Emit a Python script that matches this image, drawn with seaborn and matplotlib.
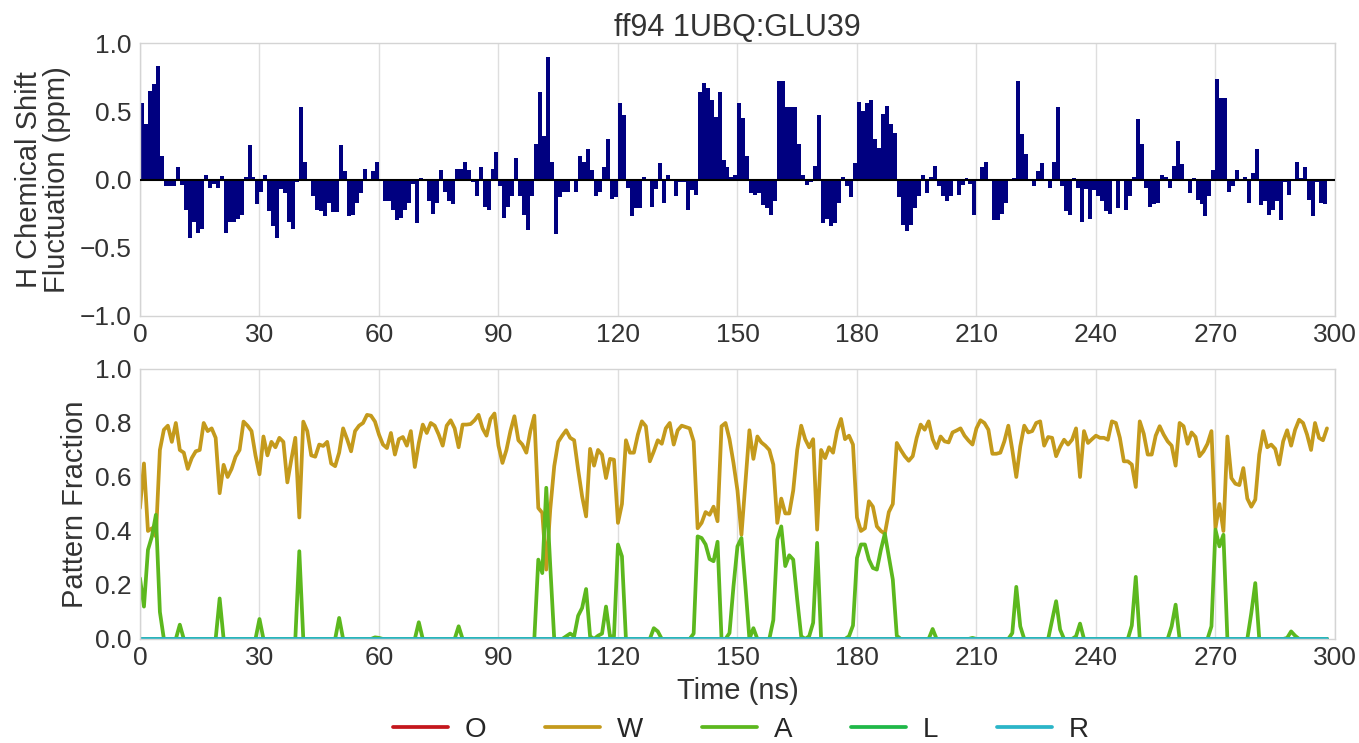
import numpy as np
import matplotlib
matplotlib.use("Agg")
import matplotlib.pyplot as plt
import seaborn as sns

# ---- data -------------------------------------------------------------
time_ns = np.arange(299)

shift_ppm = [
    0.56, 0.41, 0.65, 0.70, 0.83, 0.17, -0.05, -0.045, -0.05, 0.09,
    -0.04, -0.22, -0.43, -0.31, -0.39, -0.36, 0.03, -0.06, -0.03, -0.06,
    0.025, -0.39, -0.31, -0.31, -0.29, -0.26, 0.02, 0.25, 0.02, -0.18,
    -0.09, 0.03, -0.23, -0.34, -0.43, -0.07, -0.10, -0.31, -0.36, -0.02,
    0.53, 0.13, -0.005, -0.12, -0.22, -0.23, -0.27, -0.17, -0.24, -0.24,
    0.25, 0.06, -0.27, -0.26, -0.17, -0.10, 0.08, 0.0, 0.06, 0.13,
    -0.01, -0.16, -0.16, -0.22, -0.30, -0.28, -0.22, -0.17, -0.03, -0.32,
    0.01, -0.01, -0.16, -0.25, -0.17, 0.07, -0.09, -0.16, -0.18, 0.08,
    0.08, 0.13, 0.07, -0.02, -0.12, 0.09, -0.20, -0.22, 0.08, 0.20,
    -0.05, -0.28, -0.20, -0.12, 0.16, -0.12, -0.26, -0.37, -0.12, 0.26,
    0.64, 0.32, 0.90, 0.13, -0.40, -0.13, -0.09, -0.09, -0.01, -0.09,
    0.17, 0.13, 0.22, 0.07, -0.12, -0.09, 0.09, 0.30, -0.14, -0.13,
    0.56, 0.47, -0.06, -0.27, -0.21, -0.21, 0.02, 0.0, -0.20, -0.07,
    0.12, -0.17, 0.03, -0.01, -0.12, -0.02, -0.02, -0.22, -0.08, -0.11,
    0.64, 0.71, 0.67, 0.58, 0.46, 0.64, 0.14, 0.09, 0.02, 0.03,
    0.56, 0.45, 0.17, -0.10, -0.11, -0.10, -0.19, -0.21, -0.26, -0.16,
    0.72, 0.72, 0.53, 0.53, 0.53, 0.26, 0.03, -0.04, -0.02, 0.10,
    0.47, -0.32, -0.29, -0.34, -0.32, -0.17, 0.02, -0.05, -0.13, 0.12,
    0.57, 0.50, 0.56, 0.58, 0.30, 0.23, 0.48, 0.54, 0.41, 0.34,
    -0.13, -0.33, -0.38, -0.33, -0.21, -0.12, 0.03, -0.10, 0.02, 0.10,
    -0.05, -0.12, -0.16, -0.12, -0.01, -0.11, -0.04, 0.01, -0.03, -0.26,
    0.0, 0.09, 0.13, -0.01, -0.30, -0.30, -0.25, -0.17, 0.0, 0.01,
    0.72, 0.33, 0.19, -0.01, -0.05, 0.06, 0.12, 0.0, -0.06, 0.13,
    0.53, -0.05, -0.23, -0.26, 0.01, -0.06, -0.31, -0.07, -0.29, -0.08,
    -0.12, -0.16, -0.23, -0.25, -0.005, -0.21, 0.0, -0.22, -0.12, 0.02,
    0.44, 0.26, -0.06, -0.20, -0.18, -0.17, 0.03, 0.02, -0.06, 0.10,
    0.28, 0.11, 0.0, -0.10, 0.01, -0.15, -0.18, -0.27, -0.12, 0.07,
    0.74, 0.60, 0.60, -0.09, -0.05, 0.07, -0.01, 0.02, -0.17, 0.05,
    0.22, -0.19, -0.16, -0.26, -0.22, -0.16, -0.30, -0.02, -0.11, 0.0,
    0.13, 0.01, 0.09, -0.15, -0.27, -0.02, -0.17, -0.18, -0.01,
]

frac_W = [
    0.485, 0.65, 0.40, 0.41, 0.38, 0.70, 0.775, 0.79, 0.73, 0.80,
    0.70, 0.69, 0.63, 0.67, 0.695, 0.70, 0.80, 0.77, 0.78, 0.745,
    0.54, 0.645, 0.60, 0.63, 0.675, 0.70, 0.805, 0.79, 0.77, 0.68,
    0.61, 0.75, 0.68, 0.73, 0.71, 0.745, 0.73, 0.58, 0.665, 0.745,
    0.45, 0.805, 0.77, 0.68, 0.675, 0.72, 0.715, 0.73, 0.65, 0.64,
    0.69, 0.78, 0.74, 0.695, 0.77, 0.79, 0.80, 0.83, 0.827, 0.805,
    0.757, 0.72, 0.707, 0.763, 0.683, 0.74, 0.748, 0.716, 0.77, 0.637,
    0.726, 0.794, 0.763, 0.80, 0.79, 0.757, 0.716, 0.79, 0.81, 0.78,
    0.71, 0.794, 0.794, 0.796, 0.81, 0.83, 0.78, 0.753, 0.815, 0.835,
    0.716, 0.652, 0.70, 0.77, 0.825, 0.736, 0.72, 0.69, 0.77, 0.827,
    0.485, 0.467, 0.257, 0.48, 0.64, 0.73, 0.753, 0.773, 0.745, 0.736,
    0.627, 0.528, 0.454, 0.704, 0.642, 0.70, 0.683, 0.596, 0.667, 0.664,
    0.43, 0.50, 0.736, 0.69, 0.69, 0.757, 0.806, 0.788, 0.658, 0.695,
    0.736, 0.723, 0.78, 0.80, 0.72, 0.773, 0.79, 0.785, 0.78, 0.732,
    0.41, 0.43, 0.47, 0.46, 0.49, 0.436, 0.788, 0.80, 0.74, 0.652,
    0.55, 0.386, 0.58, 0.773, 0.667, 0.75, 0.728, 0.716, 0.70, 0.646,
    0.43, 0.52, 0.465, 0.465, 0.55, 0.70, 0.79, 0.74, 0.71, 0.74,
    0.405, 0.70, 0.67, 0.71, 0.69, 0.77, 0.815, 0.74, 0.753, 0.72,
    0.45, 0.40, 0.41, 0.51, 0.49, 0.417, 0.40, 0.39, 0.47, 0.50,
    0.726, 0.70, 0.677, 0.66, 0.677, 0.745, 0.794, 0.775, 0.806, 0.74,
    0.707, 0.75, 0.732, 0.728, 0.765, 0.772, 0.78, 0.753, 0.735, 0.72,
    0.78, 0.81, 0.80, 0.775, 0.686, 0.686, 0.69, 0.732, 0.79, 0.70,
    0.60, 0.713, 0.79, 0.765, 0.77, 0.80, 0.806, 0.716, 0.748, 0.745,
    0.677, 0.711, 0.738, 0.72, 0.738, 0.78, 0.60, 0.77, 0.726, 0.74,
    0.753, 0.745, 0.745, 0.738, 0.806, 0.80, 0.745, 0.658, 0.658, 0.646,
    0.563, 0.806, 0.76, 0.683, 0.683, 0.753, 0.788, 0.757, 0.732, 0.716,
    0.642, 0.80, 0.788, 0.723, 0.765, 0.748, 0.677, 0.695, 0.723, 0.77,
    0.41, 0.50, 0.40, 0.75, 0.596, 0.575, 0.57, 0.633, 0.52, 0.49,
    0.516, 0.683, 0.77, 0.71, 0.72, 0.704, 0.646, 0.732, 0.773, 0.716,
    0.775, 0.812, 0.80, 0.757, 0.70, 0.80, 0.745, 0.736, 0.78,
]

frac_A = [
    0.225, 0.12, 0.33, 0.38, 0.46, 0.10, 0.0, 0.0, 0.0, 0.0,
    0.053, 0.0, 0.0, 0.0, 0.0, 0.0, 0.0, 0.0, 0.0, 0.0,
    0.15, 0.0, 0.0, 0.0, 0.0, 0.0, 0.0, 0.0, 0.0, 0.0,
    0.074, 0.0, 0.0, 0.0, 0.0, 0.0, 0.0, 0.0, 0.0, 0.0,
    0.325, 0.0, 0.0, 0.0, 0.0, 0.0, 0.0, 0.0, 0.0, 0.0,
    0.078, 0.0, 0.0, 0.0, 0.0, 0.0, 0.0, 0.0, 0.0, 0.006,
    0.004, 0.0, 0.0, 0.0, 0.0, 0.0, 0.0, 0.0, 0.0, 0.0,
    0.062, 0.0, 0.0, 0.0, 0.0, 0.0, 0.0, 0.0, 0.0, 0.0,
    0.047, 0.0, 0.0, 0.0, 0.0, 0.0, 0.0, 0.0, 0.0, 0.0,
    0.0, 0.0, 0.0, 0.0, 0.0, 0.0, 0.0, 0.0, 0.0, 0.0,
    0.294, 0.244, 0.56, 0.27, 0.0, 0.0, 0.0, 0.01, 0.02, 0.01,
    0.086, 0.115, 0.185, 0.01, 0.0, 0.012, 0.02, 0.12, 0.01, 0.01,
    0.35, 0.306, 0.0, 0.0, 0.0, 0.0, 0.0, 0.0, 0.0, 0.04,
    0.028, 0.0, 0.0, 0.0, 0.0, 0.0, 0.0, 0.0, 0.0, 0.02,
    0.38, 0.374, 0.35, 0.296, 0.288, 0.36, 0.0, 0.0, 0.022, 0.195,
    0.343, 0.374, 0.195, 0.0, 0.04, 0.0, 0.0, 0.0, 0.0, 0.07,
    0.368, 0.417, 0.27, 0.31, 0.294, 0.146, 0.01, 0.0, 0.01, 0.06,
    0.356, 0.0, 0.0, 0.0, 0.0, 0.0, 0.0, 0.0, 0.01, 0.05,
    0.30, 0.35, 0.35, 0.294, 0.263, 0.257, 0.33, 0.39, 0.306, 0.22,
    0.012, 0.0, 0.0, 0.0, 0.0, 0.0, 0.0, 0.0, 0.0, 0.037,
    0.0, 0.0, 0.0, 0.0, 0.0, 0.0, 0.0, 0.0, 0.0, 0.004,
    0.0, 0.0, 0.0, 0.0, 0.0, 0.0, 0.0, 0.0, 0.0, 0.022,
    0.193, 0.047, 0.0, 0.0, 0.0, 0.0, 0.0, 0.0, 0.0, 0.07,
    0.14, 0.035, 0.0, 0.0, 0.0, 0.01, 0.057, 0.0, 0.0, 0.0,
    0.0, 0.0, 0.0, 0.0, 0.0, 0.0, 0.0, 0.0, 0.0, 0.05,
    0.23, 0.0, 0.0, 0.0, 0.0, 0.0, 0.0, 0.0, 0.0, 0.047,
    0.127, 0.0, 0.0, 0.0, 0.0, 0.0, 0.0, 0.0, 0.0, 0.047,
    0.405, 0.343, 0.386, 0.0, 0.0, 0.0, 0.0, 0.0, 0.0, 0.096,
    0.207, 0.0, 0.0, 0.0, 0.0, 0.0, 0.0, 0.0, 0.004, 0.028,
    0.012, 0.0, 0.0, 0.0, 0.0, 0.0, 0.0, 0.0, 0.0,
]

# patterns that never occur in this trajectory stay at zero
frac_O = [0.0] * len(time_ns)
frac_L = [0.0] * len(time_ns)
frac_R = [0.0] * len(time_ns)

pattern_names = ["O", "W", "A", "L", "R"]
pattern_colors = ["#c4161c", "#c49a1c", "#5cb81e", "#1fb848", "#2bb5c8"]

x_ticks = list(range(0, 301, 30))
shift_ticks = [-1.0, -0.5, 0.0, 0.5, 1.0]
frac_ticks = [0.0, 0.2, 0.4, 0.6, 0.8, 1.0]

# ---- style ------------------------------------------------------------
sns.set_theme(style="whitegrid", rc={
    "axes.edgecolor": "#d4d4d4",
    "grid.color": "#dedede",
    "axes.linewidth": 1.0,
})
plt.rcParams["font.family"] = ["Liberation Sans", "DejaVu Sans"]
text_color = "#333333"
tick_fs = 19
label_fs = 21
title_fs = 22
legend_fs = 20

fig = plt.figure(figsize=(13.59, 7.43), dpi=100)
ax1 = fig.add_axes([0.103, 0.5747, 0.8793, 0.3674])
ax2 = fig.add_axes([0.103, 0.140, 0.8793, 0.3634])

# ---- top: chemical-shift fluctuation bars ----------------------------
sns.barplot(x=time_ns + 0.5, y=shift_ppm, native_scale=True, orient="x",
            width=1.0, color="#000080", saturation=1, linewidth=0,
            errorbar=None, ax=ax1)
ax1.axhline(0, color="black", lw=1.5, zorder=3)
ax1.set_xlim(0, 300)
ax1.set_ylim(-1.0, 1.0)
ax1.set_xticks(x_ticks)
ax1.set_yticks(shift_ticks)
ax1.set_xlabel("")
ax1.set_ylabel("H Chemical Shift\nFluctuation (ppm)", fontsize=label_fs,
               color=text_color, linespacing=1.0)
ax1.yaxis.set_label_coords(-0.058, 0.5)
ax1.set_title("ff94 1UBQ:GLU39", fontsize=title_fs, color=text_color, pad=5)

# ---- bottom: pattern fractions ---------------------------------------
series = [frac_O, frac_W, frac_A, frac_L, frac_R]
for name, vals, col in zip(pattern_names, series, pattern_colors):
    sns.lineplot(x=time_ns, y=vals, color=col, linewidth=2.7, label=name,
                 ax=ax2)
ax2.set_xlim(0, 300)
ax2.set_ylim(0.0, 1.0)
ax2.set_xticks(x_ticks)
ax2.set_yticks(frac_ticks)
ax2.set_xlabel("Time (ns)", fontsize=label_fs, color=text_color, labelpad=5)
ax2.set_ylabel("Pattern Fraction", fontsize=label_fs, color=text_color)
ax2.yaxis.set_label_coords(-0.043, 0.5)

handles, labels = ax2.get_legend_handles_labels()
ax2.get_legend().remove()
fig.legend(handles, labels, loc="lower center", ncol=5, frameon=False,
           fontsize=legend_fs, bbox_to_anchor=(0.545, -0.033),
           handlelength=2.0, handletextpad=0.6, columnspacing=2.1)

for ax in (ax1, ax2):
    ax.xaxis.grid(True)
    ax.yaxis.grid(False)
    ax.tick_params(axis="both", length=0, labelsize=tick_fs, colors=text_color)
    ax.tick_params(axis="x", pad=5)
    ax.tick_params(axis="y", pad=6)
    for sp in ax.spines.values():
        sp.set_color("#d4d4d4")

fig.savefig("out.png", dpi=100)
